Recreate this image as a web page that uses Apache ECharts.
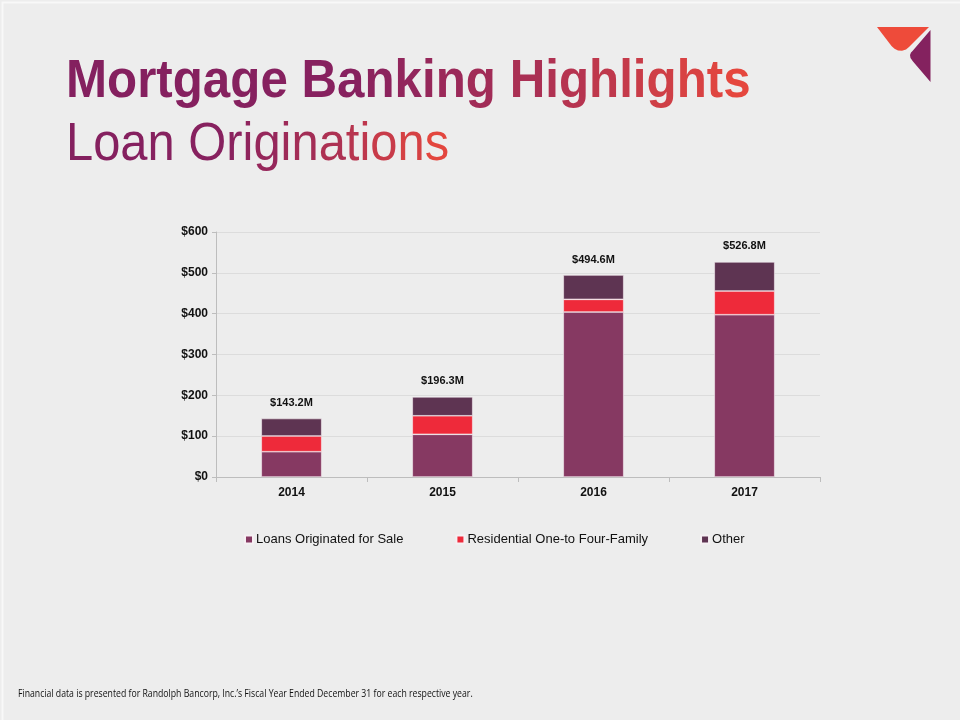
<!DOCTYPE html>
<html><head><meta charset="utf-8">
<script src="https://cdn.jsdelivr.net/npm/echarts@6/dist/echarts.min.js"></script>
<style>html,body{margin:0;padding:0;background:#EDEDED;}#c{width:960px;height:720px;}</style>
</head><body><div id="c"></div>
<script>
const categories = ['2014', '2015', '2016', '2017'];
const loansForSale = [62, 104.5, 404, 397.5];
const residential = [38.5, 45.5, 31, 58];
const other = [42.7, 46.3, 59.6, 71.3];
const totalLabels = ['$143.2M', '$196.3M', '$494.6M', '$526.8M'];
const yTicks = [0, 100, 200, 300, 400, 500, 600];
const seriesNames = ['Loans Originated for Sale', 'Residential One-to Four-Family', 'Other'];
const colors = ['#863962', '#EE2A3A', '#5E3452'];

const gradStops = [[0, [0x84, 0x20, 0x5F]], [0.42, [0x87, 0x21, 0x5F]], [0.7, [0xAE, 0x31, 0x53]], [1, [0xE9, 0x49, 0x3C]]];
function colorAt(t) {
  for (let i = 1; i < gradStops.length; i++) {
    if (t <= gradStops[i][0]) {
      const [t0, c0] = gradStops[i - 1], [t1, c1] = gradStops[i];
      const f = (t - t0) / (t1 - t0);
      return 'rgb(' + c0.map((v, k) => Math.round(v + (c1[k] - v) * f)).join(',') + ')';
    }
  }
  return 'rgb(233,73,60)';
}
const mctx = document.createElement('canvas').getContext('2d');
function gradientText(text, font, x0, y0, sx) {
  mctx.font = font;
  const total = mctx.measureText(text).width;
  const res = [];
  let prefix = '';
  for (const ch of Array.from(text)) {
    const start = mctx.measureText(prefix).width;
    const w = mctx.measureText(ch).width;
    if (ch !== ' ') {
      res.push({type: 'text', x: x0 + start * sx, y: y0, scaleX: sx, silent: true,
        style: {text: ch, font, fill: colorAt((start + w / 2) / total), verticalAlign: 'top', align: 'left'}});
    }
    prefix += ch;
  }
  return res;
}

const chart = echarts.init(document.getElementById('c'), null, {renderer: 'canvas'});
const mk = (name, data, color, withLabel) => ({
  name, type: 'bar', stack: 'total', data, barWidth: '40%',
  itemStyle: {color, borderColor: '#F6F0F3', borderWidth: 0.6},
  label: withLabel ? {
    show: true, position: 'top', distance: 10,
    formatter: p => totalLabels[p.dataIndex],
    fontFamily: 'Liberation Sans', fontWeight: 'bold', fontSize: 11, color: '#111'
  } : {show: false}
});
const graphics = [
  {type: 'rect', left: 0, top: 0, shape: {width: 959, height: 719}, style: {fill: 'none', stroke: '#F8F8F8', lineWidth: 2}},
  ...gradientText('Mortgage Banking Highlights', 'bold 53px "Liberation Sans"', 66, 56, 0.93),
  ...gradientText('Loan Originations', '54px "Liberation Sans"', 66, 118, 0.905),
  {type: 'polygon', shape: {points: [[877,27],[929,27],[909,47],[906,49.5],[902,50.8],[898,50.5],[894.5,48.8],[891.5,46]]}, style: {fill: '#EE4B3A'}},
  {type: 'polygon', shape: {points: [[930.5,30],[930.5,82],[913,61.5],[910.5,58],[910,55],[911,52.5],[912.5,51]]}, style: {fill: '#84225F'}},
  {type: 'text', x: 18, y: 689, scaleX: 0.87, style: {text: 'Financial data is presented for Randolph Bancorp, Inc.\u2019s Fiscal Year Ended December 31 for each respective year.', font: '10px "Open Sans"', fill: '#111', verticalAlign: 'top'}}
];
chart.setOption({
  backgroundColor: '#EDEDED',
  animation: false,
  graphic: graphics,
  grid: {left: 216, right: 140, top: 232, bottom: 243},
  legend: {
    data: seriesNames, left: 239, top: 528, itemWidth: 8, itemHeight: 8, itemGap: 52,
    icon: 'rect',
    textStyle: {fontFamily: 'Liberation Sans', fontSize: 13, color: '#111', padding: [0, 0, 0, -2]}
  },
  xAxis: {
    type: 'category', data: categories,
    axisLine: {lineStyle: {color: '#BDBDBD'}},
    axisTick: {show: true, alignWithLabel: false, lineStyle: {color: '#BDBDBD'}},
    axisLabel: {fontFamily: 'Liberation Sans', fontWeight: 'bold', fontSize: 12, color: '#111', margin: 10}
  },
  yAxis: {
    type: 'value', min: 0, max: 600, interval: 100,
    axisLine: {show: true, lineStyle: {color: '#BDBDBD'}},
    axisTick: {show: true, length: 4, lineStyle: {color: '#BDBDBD'}},
    splitLine: {lineStyle: {color: '#DCDCDC'}},
    axisLabel: {fontFamily: 'Liberation Sans', fontWeight: 'bold', fontSize: 12, color: '#111', margin: 8,
      formatter: v => yTicks.includes(v) ? '$' + v : ''}
  },
  series: [
    mk(seriesNames[0], loansForSale, colors[0], false),
    mk(seriesNames[1], residential, colors[1], false),
    mk(seriesNames[2], other, colors[2], true)
  ]
});
</script></body></html>
